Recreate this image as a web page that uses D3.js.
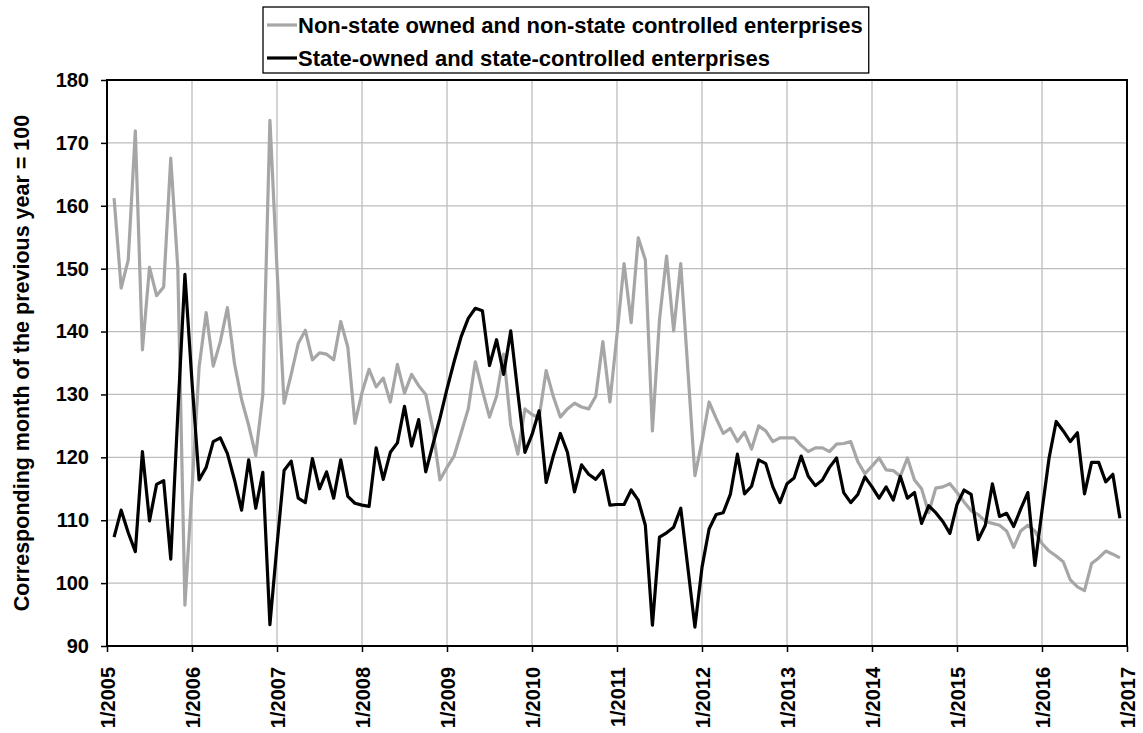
<!DOCTYPE html>
<html>
<head>
<meta charset="utf-8">
<script src="https://cdn.jsdelivr.net/npm/d3@7"></script>
<style>
  body { margin: 0; background: white; }
  svg { display: block; font-family: Arial, "Liberation Sans", sans-serif; font-weight: bold; }
</style>
</head>
<body>
<svg id="chart" width="1143" height="733"></svg>
<script>

// monthly series, Feb 2005 .. Dec 2016 (index 1 = 2/2005)
var firstMonth = 1;

var nonState = [
  161.2, 146.9, 151.4, 171.9, 137.1, 150.2, 145.7, 147.1, 167.6, 150.0, 96.5,
  115.0, 134.3, 143.0, 134.5, 138.4, 143.8, 134.9, 129.2, 125.1, 120.3, 130.0, 173.6,
  150.0, 128.6, 133.2, 138.1, 140.2, 135.5, 136.6, 136.4, 135.5, 141.6, 137.5, 125.4,
  130.3, 134.0, 131.2, 132.6, 128.8, 134.8, 130.2, 133.2, 131.4, 130.0, 124.5, 116.4,
  118.4, 120.2, 123.9, 127.7, 135.2, 130.6, 126.4, 129.7, 136.4, 125.1, 120.5, 127.7,
  126.8, 126.3, 133.8, 129.7, 126.4, 127.7, 128.6, 128.0, 127.7, 129.7, 138.4, 128.8,
  139.5, 150.8, 141.4, 154.9, 151.4, 124.2, 141.9, 152.0, 140.1, 150.8, 134.0, 117.1,
  122.5, 128.8, 126.2, 123.8, 124.6, 122.5, 124.0, 121.3, 125.0, 124.2, 122.5, 123.1,
  123.1, 123.1, 121.9, 120.9, 121.5, 121.5, 120.9, 122.1, 122.2, 122.5, 119.3, 117.4,
  118.6, 119.9, 118.0, 117.9, 117.0, 119.9, 116.4, 115.0, 111.2, 115.1, 115.3, 115.8,
  114.4, 112.9, 111.5, 110.9, 109.8, 109.5, 109.2, 108.3, 105.7, 108.3, 109.2, 108.3,
  106.3, 105.1, 104.3, 103.4, 100.5, 99.4, 98.8, 103.1, 104.0, 105.1, 104.6, 104.0
];

var stateOwned = [
  107.3, 111.6, 108.0, 105.0, 120.9, 109.9, 115.7, 116.3, 103.8, 127.0, 149.1,
  132.0, 116.4, 118.4, 122.5, 123.1, 120.6, 116.4, 111.6, 119.6, 111.9, 117.6, 93.4,
  106.0, 117.9, 119.4, 113.5, 112.8, 119.8, 115.0, 117.7, 113.5, 119.6, 113.8, 112.7,
  112.4, 112.2, 121.5, 116.5, 120.8, 122.3, 128.1, 121.8, 126.0, 117.7, 122.0, 126.2,
  130.9, 135.2, 139.2, 142.1, 143.7, 143.3, 134.6, 138.7, 133.2, 140.1, 130.3, 120.8,
  123.6, 127.4, 116.0, 120.2, 123.8, 120.8, 114.5, 118.8, 117.3, 116.5, 117.9, 112.4,
  112.5, 112.5, 114.8, 113.2, 109.2, 93.3, 107.3, 108.0, 108.9, 111.9, 102.5, 93.0,
  102.5, 108.6, 110.9, 111.2, 114.1, 120.5, 114.2, 115.4, 119.6, 119.0, 115.3, 112.8,
  115.8, 116.7, 120.2, 117.0, 115.5, 116.4, 118.4, 119.9, 114.4, 112.8, 114.1, 116.9,
  115.3, 113.5, 115.3, 113.2, 117.0, 113.5, 114.4, 109.5, 112.3, 111.2, 109.8, 107.9,
  112.5, 114.8, 114.1, 106.9, 109.2, 115.8, 110.6, 111.1, 109.0, 111.8, 114.4, 102.8,
  111.5, 119.9, 125.7, 124.2, 122.5, 123.9, 114.2, 119.2, 119.2, 116.1, 117.3, 110.3
];

var yearLabels = ['1/2005', '1/2006', '1/2007', '1/2008', '1/2009', '1/2010', '1/2011',
                  '1/2012', '1/2013', '1/2014', '1/2015', '1/2016', '1/2017'];

var yTicks = [90, 100, 110, 120, 130, 140, 150, 160, 170, 180];

var seriesNames = ['Non-state owned and non-state controlled enterprises',
                   'State-owned and state-controlled enterprises'];
var seriesColors = ['#a6a6a6', '#000000'];

var margin = {left: 107, right: 16, top: 80, bottom: 87};
var width = 1143 - margin.left - margin.right,
    height = 733 - margin.top - margin.bottom;

var svg = d3.select('#chart');
var g = svg.append('g').attr('transform', 'translate(' + margin.left + ',' + margin.top + ')');

var x = d3.scaleLinear().domain([0, (yearLabels.length - 1) * 12]).range([0, width]);
var y = d3.scaleLinear().domain([90, 180]).range([height, 0]);

var yearTicks = yearLabels.map((l, i) => i * 12);

// grid
g.append('g')
  .selectAll('line')
  .data(yTicks)
  .enter()
  .append('line')
  .attr('x1', 0).attr('x2', width)
  .attr('y1', d => y(d)).attr('y2', d => y(d))
  .attr('stroke', '#bdbdbd')
  .attr('stroke-width', 1.3);

g.append('g')
  .selectAll('line')
  .data(yearTicks)
  .enter()
  .append('line')
  .attr('x1', d => x(d)).attr('x2', d => x(d))
  .attr('y1', 0).attr('y2', height)
  .attr('stroke', '#bdbdbd')
  .attr('stroke-width', 1.3);

// axes
var yAxis = g.append('g')
  .call(d3.axisLeft(y).tickValues(yTicks).tickSize(6).tickPadding(12).tickFormat(d3.format('d')));

var xAxis = g.append('g')
  .attr('transform', 'translate(0,' + height + ')')
  .call(d3.axisBottom(x).tickValues(yearTicks).tickSize(6).tickFormat((d, i) => yearLabels[i]));

[yAxis, xAxis].forEach(a => {
  a.select('.domain').remove();
  a.selectAll('line').attr('stroke', '#000').attr('stroke-width', 1.5);
  a.selectAll('text').attr('font-family', 'Arial, "Liberation Sans", sans-serif')
   .attr('font-weight', 'bold').attr('font-size', 20).attr('fill', '#000');
});

xAxis.selectAll('text')
  .attr('transform', 'rotate(-90)')
  .attr('text-anchor', 'end')
  .attr('dy', '0.36em')
  .attr('x', -21)
  .attr('y', 0);

// series
var line = d3.line()
  .x((d, i) => x(firstMonth + i))
  .y(d => y(d));

[nonState, stateOwned].forEach((s, k) => {
  g.append('path')
    .datum(s)
    .attr('fill', 'none')
    .attr('stroke', seriesColors[k])
    .attr('stroke-width', 3.2)
    .attr('stroke-linejoin', 'round')
    .attr('d', line);
});

// frame
g.append('rect')
  .attr('x', 0).attr('y', 0)
  .attr('width', width).attr('height', height)
  .attr('fill', 'none')
  .attr('stroke', '#000')
  .attr('stroke-width', 2);

// y title
svg.append('text')
  .attr('transform', 'translate(29,' + (margin.top + height / 2) + ') rotate(-90)')
  .attr('text-anchor', 'middle')
  .attr('font-size', 21.5)
  .text('Corresponding month of the previous year = 100');

// legend
var leg = svg.append('g').attr('transform', 'translate(263,7)');
var legRect = leg.append('rect')
  .attr('x', 0).attr('y', 0)
  .attr('height', 66)
  .attr('fill', 'white')
  .attr('stroke', '#000')
  .attr('stroke-width', 1.3);

var maxW = 0;
seriesNames.forEach((name, i) => {
  var cy = 18 + i * 33;
  leg.append('line')
    .attr('x1', 4).attr('x2', 34)
    .attr('y1', cy).attr('y2', cy)
    .attr('stroke', seriesColors[i])
    .attr('stroke-width', 3.2);
  var t = leg.append('text')
    .attr('x', 35)
    .attr('y', cy)
    .attr('dy', '0.36em')
    .attr('font-size', 22)
    .text(name);
  maxW = Math.max(maxW, t.node().getComputedTextLength());
});
legRect.attr('width', 35 + maxW + 6);

</script>
</body>
</html>
